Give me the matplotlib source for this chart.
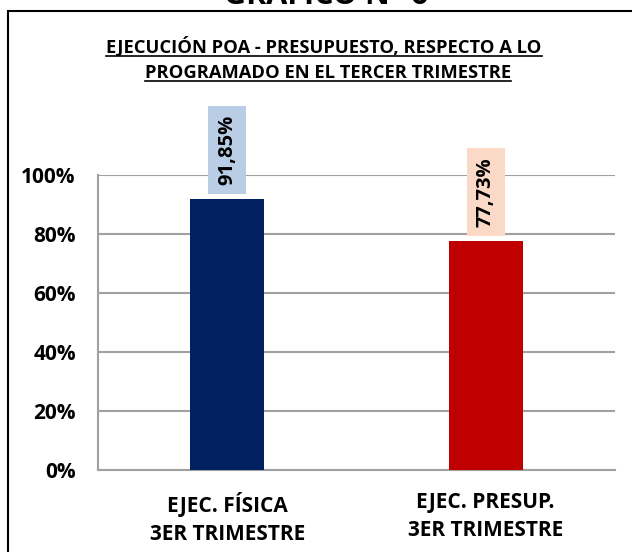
import matplotlib
matplotlib.use('Agg')
import matplotlib.pyplot as plt
from matplotlib.patches import Rectangle
from matplotlib.lines import Line2D

categories = ['EJEC. FÍSICA\n3ER TRIMESTRE', 'EJEC. PRESUP.\n3ER TRIMESTRE']
values = [0.9185, 0.7773]
value_labels = ['91,85%', '77,73%']
bar_colors = ['#002060', '#C00000']
box_colors = ['#B9CDE5', '#FAD9C6']
yticks = [0, 0.2, 0.4, 0.6, 0.8, 1.0]
ytick_labels = ['0%', '20%', '40%', '60%', '80%', '100%']

plt.rcParams['font.family'] = ['Open Sans', 'DejaVu Sans']
plt.rcParams['font.weight'] = 'bold'

W, H = 632, 552
fig = plt.figure(figsize=(W / 100, H / 100), dpi=100)
ax = fig.add_axes([98 / W, 1 - 470 / H, (615 - 98) / W, (470 - 175) / H])

x = range(len(categories))
ax.bar(x, values, width=0.286, color=bar_colors, zorder=3)
ax.set_xlim(-0.5, 1.5)
ax.set_ylim(0, 1.0)
ax.set_yticks(yticks)
ax.set_yticklabels(ytick_labels, fontsize=15, fontweight='bold')
ax.set_xticks(list(x))
ax.set_xticklabels(categories, fontsize=15, fontweight='bold', linespacing=1.45)
ax.tick_params(axis='y', length=0, pad=16)
ax.tick_params(axis='x', length=0, pad=16)
ax.grid(axis='y', color='#A0A0A0', linewidth=1.5, zorder=0)
for s in ['top', 'right']:
    ax.spines[s].set_visible(False)
for s in ['left', 'bottom']:
    ax.spines[s].set_color('#A0A0A0')
    ax.spines[s].set_linewidth(1.5)

for xi, v, lab, bc in zip(x, values, value_labels, box_colors):
    ax.annotate(lab, (xi, v), xytext=(0, 10), textcoords='offset points',
                rotation=90, ha='center', va='bottom', fontsize=14.5,
                fontweight='bold', annotation_clip=False, zorder=4,
                bbox=dict(boxstyle='square,pad=0.45', fc=bc, ec='none'))

# outer frame
fig.patches.append(Rectangle((8 / W, -0.1), 1.2, 1 - 11 / H + 0.1,
                             transform=fig.transFigure, fill=False,
                             ec='black', lw=1.5))

fig.text(326 / W, 1 - 4 / H, 'GRÁFICO N° 6', ha='center', va='baseline',
         fontsize=22, fontweight='bold')

t1 = fig.text(324 / W, 1 - 47 / H, 'EJECUCIÓN POA - PRESUPUESTO, RESPECTO A LO',
              ha='center', va='center', fontsize=13.2, fontweight='bold')
t2 = fig.text(328 / W, 1 - 73 / H, 'PROGRAMADO EN EL TERCER TRIMESTRE',
              ha='center', va='center', fontsize=13.2, fontweight='bold')

fig.canvas.draw()
r = fig.canvas.get_renderer()
for t in [t1, t2]:
    bb = t.get_window_extent(r)
    yy = bb.y0 + 1
    fig.lines.append(Line2D([bb.x0 / W, bb.x1 / W], [yy / H, yy / H],
                            transform=fig.transFigure, color='black', lw=1.2))

fig.savefig('out.png', dpi=100)
